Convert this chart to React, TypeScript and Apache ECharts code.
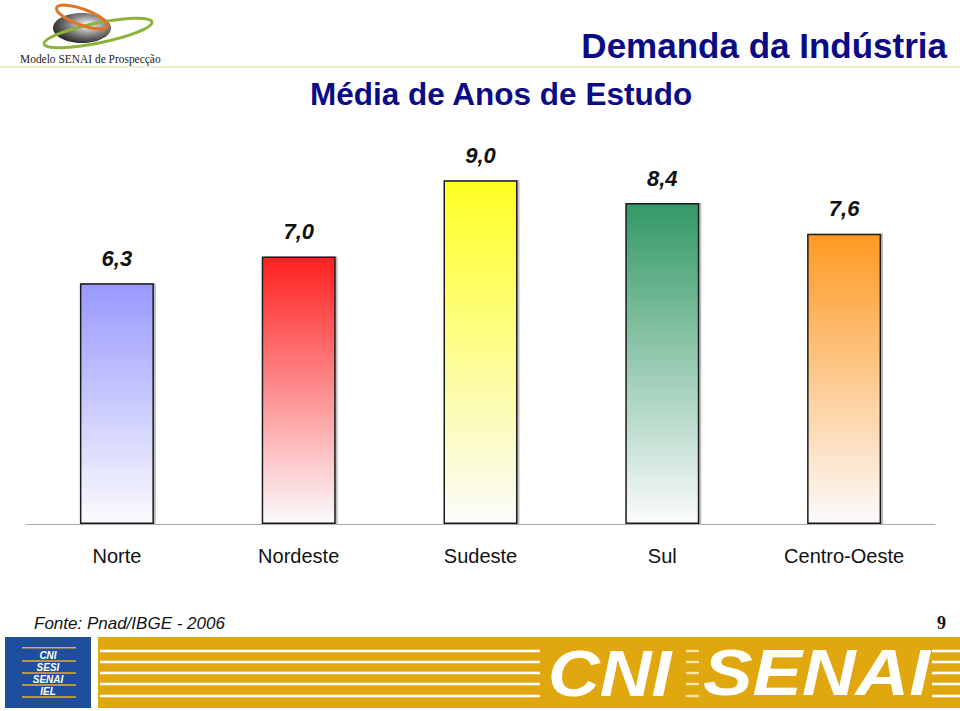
import React, { useEffect, useRef } from "react";
import * as echarts from "echarts";

const categories = ["Norte", "Nordeste", "Sudeste", "Sul", "Centro-Oeste"];
const values = [6.3, 7.0, 9.0, 8.4, 7.6];
const barColors = ["#9999ff", "#ff2020", "#ffff22", "#339966", "#ff9922"];
const stripeYs = [651, 662, 673, 684, 696];
const boxWords = ["CNI", "SESI", "SENAI", "IEL"];

export default function App() {
  const ref = useRef<HTMLDivElement>(null);
  useEffect(() => {
    document.body.style.margin = "0";
    const chart = echarts.init(ref.current!, null, { renderer: "svg" });
    const navy = "#0b0b86";
    const graphics: any[] = [
      { type: "line", shape: { x1: 0, y1: 67, x2: 960, y2: 67 }, style: { stroke: "#f1eed0", lineWidth: 2 }, z: 1 },
      {
        type: "ellipse",
        shape: { cx: 82, cy: 28, rx: 29, ry: 15 },
        style: {
          fill: new echarts.graphic.RadialGradient(0.6, 0.4, 0.7, [
            { offset: 0, color: "#ffffff" },
            { offset: 0.45, color: "#8a8a8a" },
            { offset: 1, color: "#111111" },
          ]),
        },
        z: 2,
      },
      {
        type: "ellipse",
        shape: { cx: 98, cy: 33, rx: 55, ry: 10 },
        rotation: 0.2,
        originX: 98,
        originY: 33,
        style: { fill: "none", stroke: "#8cb33a", lineWidth: 3 },
        z: 3,
      },
      {
        type: "ellipse",
        shape: { cx: 82, cy: 17, rx: 27, ry: 8 },
        rotation: -0.35,
        originX: 82,
        originY: 17,
        style: { fill: "none", stroke: "#e0762a", lineWidth: 3 },
        z: 3,
      },
      {
        type: "text",
        x: 20,
        y: 59,
        scaleX: 0.88,
        originX: 0,
        originY: 0,
        style: { text: "Modelo SENAI de Prospecção", font: "13px 'Liberation Serif', serif", fill: "#222", verticalAlign: "middle" },
        z: 3,
      },
      {
        type: "text",
        x: 947,
        y: 45,
        style: { text: "Demanda da Indústria", font: "bold 35px 'Liberation Sans', Arial, sans-serif", fill: navy, align: "right", verticalAlign: "middle" },
      },
      {
        type: "text",
        x: 310,
        y: 94,
        style: { text: "Média de Anos de Estudo", font: "bold 31.5px 'Liberation Sans', Arial, sans-serif", fill: navy, align: "left", verticalAlign: "middle" },
      },
      {
        type: "text",
        x: 34,
        y: 623,
        style: { text: "Fonte: Pnad/IBGE - 2006", font: "italic 17px 'Liberation Sans', Arial, sans-serif", fill: "#111", verticalAlign: "middle" },
      },
      {
        type: "text",
        x: 946,
        y: 623,
        style: { text: "9", font: "bold 18px 'Liberation Serif', serif", fill: "#111", align: "right", verticalAlign: "middle" },
      },
      { type: "rect", shape: { x: 5, y: 637, width: 86, height: 71 }, style: { fill: "#1f4e9c" } },
      { type: "rect", shape: { x: 98, y: 637, width: 862, height: 71 }, style: { fill: "#e0a70f" } },
    ];
    stripeYs.forEach((y) => {
      graphics.push({ type: "rect", shape: { x: 100, y: y - 1.3, width: 440, height: 2.6 }, style: { fill: "#ffffff" } });
      graphics.push({ type: "rect", shape: { x: 686, y: y - 1.2, width: 13, height: 2.4 }, style: { fill: "#fbe6a6" } });
      graphics.push({ type: "rect", shape: { x: 932, y: y - 1.3, width: 28, height: 2.6 }, style: { fill: "#ffffff" } });
    });
    graphics.push({
      type: "text",
      x: 548,
      y: 673,
      scaleX: 1.12,
      originX: 0,
      originY: 0,
      style: { text: "CNI", font: "italic bold 64px 'Liberation Sans', Arial, sans-serif", fill: "#ffffff", verticalAlign: "middle" },
    });
    graphics.push({
      type: "text",
      x: 703,
      y: 673,
      scaleX: 1.16,
      originX: 0,
      originY: 0,
      style: { text: "SENAI", font: "italic bold 64px 'Liberation Sans', Arial, sans-serif", fill: "#ffffff", verticalAlign: "middle" },
    });
    graphics.push({ type: "rect", shape: { x: 22, y: 647, width: 54, height: 1.5 }, style: { fill: "#e8b020" } });
    boxWords.forEach((w, i) => {
      const y = 655 + i * 12;
      graphics.push({ type: "rect", shape: { x: 22, y: y + 5.2, width: 54, height: 1.5 }, style: { fill: "#e8b020" } });
      graphics.push({
        type: "text",
        x: 48,
        y,
        style: { text: w, font: "italic bold 10px 'Liberation Sans', Arial, sans-serif", fill: "#ffffff", align: "center", verticalAlign: "middle" },
      });
    });

    const option: any = {
      animation: false,
      backgroundColor: "#ffffff",
      grid: { left: 26, right: 25, top: 142, bottom: 187 },
      xAxis: {
        type: "category",
        data: categories,
        axisLine: { lineStyle: { color: "#aaaaaa", width: 1 } },
        axisTick: { length: 7, lineStyle: { color: "#aaaaaa" } },
        axisLabel: { fontSize: 20, color: "#111", margin: 22, fontFamily: "'Liberation Sans Narrow', 'Arial Narrow', 'Liberation Sans', sans-serif" },
      },
      yAxis: { type: "value", min: 0, max: 10, show: false, splitLine: { show: false } },
      series: [
        {
          type: "bar",
          barWidth: 74,
          data: values.map((v, i) => ({
            value: v,
            itemStyle: {
              color: new echarts.graphic.LinearGradient(0, 0, 0, 1, [
                { offset: 0, color: barColors[i] },
                { offset: 1, color: "#fbfbfd" },
              ]),
              borderColor: "#1a1a1a",
              borderWidth: 1.5,
              shadowColor: "rgba(0,0,0,0.25)",
              shadowOffsetX: 2,
              shadowOffsetY: 0,
              shadowBlur: 1,
            },
          })),
          label: {
            show: true,
            position: "top",
            distance: 14,
            formatter: (p: any) => p.value.toFixed(1).replace(".", ","),
            fontSize: 22,
            fontWeight: "bold",
            fontStyle: "italic",
            color: "#111",
            fontFamily: "'Liberation Sans', Arial, sans-serif",
          },
        },
      ],
      graphic: graphics,
    };
    chart.setOption(option);
    return () => chart.dispose();
  }, []);
  return <div ref={ref} style={{ width: 960, height: 711 }} />;
}
